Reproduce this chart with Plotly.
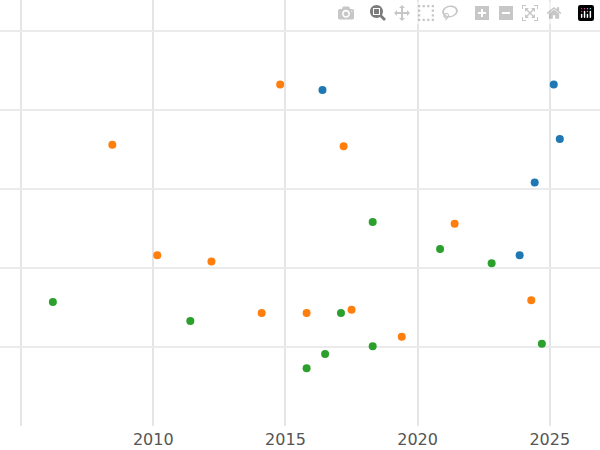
import plotly.graph_objects as go

blue_x = [2016.4, 2025.15, 2025.38, 2024.43, 2023.86]
blue_y = [4.25, 4.32, 3.63, 3.08, 2.16]
orange_x = [2014.8, 2008.45, 2017.2, 2021.4, 2010.15, 2012.2, 2014.1, 2015.8, 2017.5, 2019.4, 2024.3]
orange_y = [4.32, 3.56, 3.54, 2.56, 2.16, 2.08, 1.43, 1.43, 1.47, 1.13, 1.59]
green_x = [2006.2, 2011.4, 2018.3, 2020.85, 2022.8, 2017.1, 2016.5, 2015.8, 2018.3, 2024.7]
green_y = [1.57, 1.33, 2.58, 2.24, 2.06, 1.43, 0.91, 0.73, 1.01, 1.04]

fig = go.Figure()
for xs, ys, c in [(blue_x, blue_y, "#1f77b4"), (orange_x, orange_y, "#ff7f0e"), (green_x, green_y, "#2ca02c")]:
    fig.add_trace(go.Scatter(x=xs, y=ys, mode="markers", marker=dict(color=c, size=8)))

fig.update_layout(
    width=600, height=450, showlegend=False,
    margin=dict(l=0, r=0, t=0, b=24),
    plot_bgcolor="white", paper_bgcolor="white",
    font=dict(family="DejaVu Sans", size=16, color="#555"),
)
fig.update_xaxes(range=[2004.2, 2026.9], tickvals=[2005, 2010, 2015, 2020, 2025],
                 ticktext=["", "2010", "2015", "2020", "2025"], ticklabelstandoff=2,
                 showgrid=True, gridcolor="#e5e5e5", gridwidth=2, zeroline=False, ticks="")
fig.update_yaxes(range=[0, 5.39], tickvals=[0, 1, 2, 3, 4, 5], showticklabels=False,
                 showgrid=True, gridcolor="#ebebeb", gridwidth=1.5, zeroline=False)
fig.write_html("out.html")

with open("out.html", encoding="utf-8") as f:
    html = f.read()
html = html.replace("<head>", "<head><style>html,body{margin:0;padding:0;overflow:hidden}</style>", 1)
with open("out.html", "w", encoding="utf-8") as f:
    f.write(html)
